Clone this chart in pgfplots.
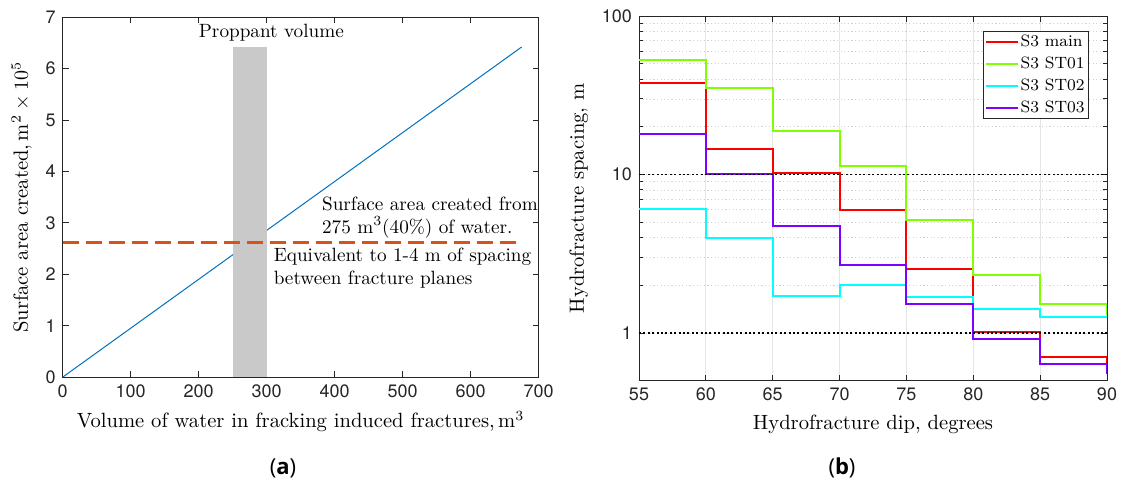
\documentclass[border=0pt]{standalone}
\usepackage{fontspec}
\setsansfont{TeX Gyre Heros}
\newfontfamily\capfont{Open Sans}
\usepackage{pgfplots}
\pgfplotsset{compat=1.18}

\definecolor{mblue}{rgb}{0,0.447,0.741}
\definecolor{morange}{rgb}{0.85,0.325,0.098}
\definecolor{axgray}{rgb}{0.15,0.15,0.15}
\definecolor{mred}{rgb}{1,0,0}
\definecolor{chart}{rgb}{0.5,1,0}
\definecolor{mcyan}{rgb}{0,1,1}
\definecolor{mpurple}{rgb}{0.5,0,1}
\definecolor{propgray}{rgb}{0.79,0.79,0.79}

\pgfplotsset{mstyle/.style={
  scale only axis,
  axis line style={axgray, line width=0.45pt},
  every tick/.style={axgray, line width=0.45pt},
  tick align=inside,
  major tick length=3pt,
  minor tick length=1.8pt,
  ticklabel style={font=\sffamily\fontsize{9}{10}\selectfont, text=axgray},
  /pgf/number format/assume math mode=true,
  label style={font=\fontsize{10.3}{12}\selectfont, text=black},
}}

\begin{document}
\begin{tikzpicture}
\useasboundingbox (0,0) rectangle (560.5pt,240.5pt);

% (a)
\begin{axis}[mstyle, at={(31.3pt,51.9pt)}, anchor=south west,
  width=238pt, height=180pt,
  xmin=0, xmax=700, ymin=0, ymax=7,
  xtick={0,100,...,700}, ytick={0,1,...,7},
  xlabel={Volume of water in fracking induced fractures,$\,\mathrm{m}^3$},
  ylabel={Surface area created,$\,\mathrm{m}^2\times10^5$},
  clip=false]
\addplot[mblue, line width=0.5pt] coordinates {(0,0) (675,6.42)};
\addplot[fill=propgray, draw=none] coordinates {(250,6.42) (300,6.42)} \closedcycle;
\addplot[morange, line width=1.4pt, dash pattern=on 8pt off 3.5pt] coordinates {(0,2.62) (675,2.62)};
\node[font=\fontsize{9.6}{11}\selectfont] at (axis cs:307,6.69) {Proppant volume};
\node[anchor=base west, font=\fontsize{9.6}{11}\selectfont, inner sep=0pt] at (axis cs:381,3.25) {Surface area created from};
\node[anchor=base west, font=\fontsize{9.6}{11}\selectfont, inner sep=0pt] at (axis cs:381,2.80) {275 m$^3$(40\%) of water.};
\node[anchor=base west, font=\fontsize{9.6}{11}\selectfont, inner sep=0pt] at (axis cs:310,2.24) {Equivalent to 1-4 m of spacing};
\node[anchor=base west, font=\fontsize{9.6}{11}\selectfont, inner sep=0pt] at (axis cs:310,1.80) {between fracture planes};
\end{axis}

% (b)
\begin{axis}[mstyle, at={(319.5pt,50.15pt)}, anchor=south west,
  width=234pt, height=182.35pt,
  ymode=log, xmin=55, xmax=90, ymin=0.5, ymax=100,
  xtick={55,60,...,90}, ytick={1,10,100}, yticklabels={1,10,100},
  xmajorgrids, yminorgrids,
  major grid style={black!10, line width=0.4pt},
  minor grid style={black!18, line width=0.3pt, dash pattern=on 0.6pt off 1.2pt},
  xlabel={Hydrofracture dip, degrees},
  ylabel={Hydrofracture spacing, m},
  legend style={at={(0.9615,0.96)}, anchor=north east, draw=axgray, line width=0.45pt,
    font=\fontsize{8.2}{9}\selectfont, inner xsep=1pt, inner ysep=0.8pt, row sep=1.45pt,
    nodes={inner sep=1pt, text height=6pt, text depth=1.5pt},
    cells={anchor=west}},
  legend image code/.code={\draw[mark repeat=2,mark phase=2,#1] plot coordinates {(0pt,0pt) (7.9pt,0pt) (15.8pt,0pt)};},
  legend cell align=left]
\addplot[const plot, mred, line width=1pt] coordinates {(55,38) (60,14.4) (65,10.2) (70,6.0) (75,2.55) (80,1.01) (85,0.71) (90,0.65)};
\addlegendentry{S3 main}
\addplot[const plot, chart, line width=1pt] coordinates {(55,52.4) (60,35.1) (65,18.8) (70,11.3) (75,5.17) (80,2.31) (85,1.52) (90,1.30)};
\addlegendentry{S3 ST01}
\addplot[const plot, mcyan, line width=1pt] coordinates {(55,6.08) (60,4.0) (65,1.71) (70,2.0) (75,1.68) (80,1.41) (85,1.27) (90,1.24)};
\addlegendentry{S3 ST02}
\addplot[const plot, mpurple, line width=1pt] coordinates {(55,18.1) (60,10.0) (65,4.75) (70,2.70) (75,1.52) (80,0.92) (85,0.64) (90,0.55)};
\addlegendentry{S3 ST03}
\addplot[black, line width=0.9pt, dash pattern=on 1pt off 1.2pt, forget plot] coordinates {(55,10) (90,10)};
\addplot[black, line width=0.9pt, dash pattern=on 1pt off 1.2pt, forget plot] coordinates {(55,1) (90,1)};
\end{axis}

\node[font=\capfont\fontsize{11}{12}\selectfont] at (141.5pt,6.5pt) {(\textbf{a})};
\node[font=\capfont\fontsize{11}{12}\selectfont] at (421pt,6.5pt) {(\textbf{b})};
\end{tikzpicture}
\end{document}
